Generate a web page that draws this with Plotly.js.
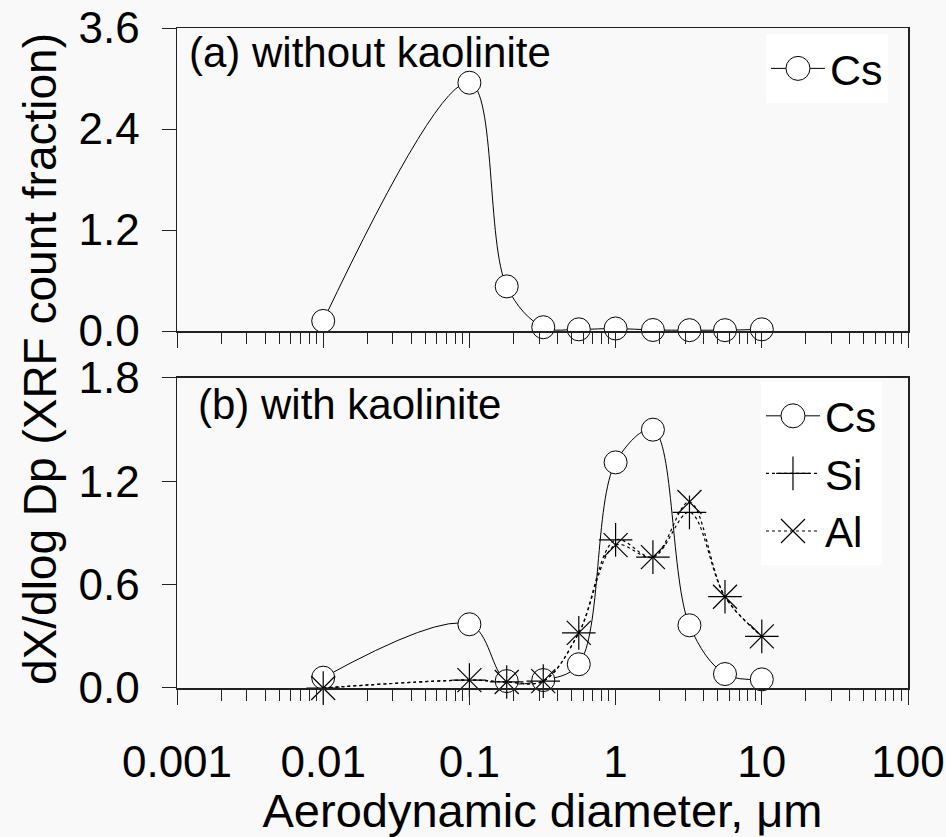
<!DOCTYPE html>
<html>
<head>
<meta charset="utf-8">
<script src="https://cdn.plot.ly/plotly-3.0.1.min.js"></script>
<style>
  html, body { margin: 0; padding: 0; background: #f9f9f9; }
  #chart { width: 946px; height: 837px; }
</style>
</head>
<body>
<div id="chart"></div>
<script>
// ---- data ----
var diameters = [0.01, 0.1, 0.18, 0.32, 0.56, 1.0, 1.8, 3.2, 5.6, 10];
var csWithout = [0.12, 2.95, 0.53, 0.045, 0.02, 0.03, 0.012, 0.01, 0.01, 0.02];
var csWith    = [0.06, 0.37, 0.04, 0.046, 0.138, 1.31, 1.50, 0.364, 0.081, 0.05];
var siWith    = [0.0, 0.046, 0.035, 0.04, 0.32, 0.86, 0.76, 1.02, 0.53, 0.30];
var alWith    = [0.0, 0.046, 0.035, 0.04, 0.32, 0.83, 0.76, 1.08, 0.53, 0.30];
var xTickVals = [0.001, 0.01, 0.1, 1, 10, 100];
var xTickText = ['0.001', '0.01', '0.1', '1', '10', '100'];
var yTopTicks = [0, 1.2, 2.4, 3.6];
var yBotTicks = [0, 0.6, 1.2, 1.8];

// minor tick positions (2..9 within each decade)
var xMinor = [];
for (var e = -3; e <= 1; e++) {
  for (var k = 2; k <= 9; k++) xMinor.push(k * Math.pow(10, e));
}

var FONT = 'Liberation Sans, Arial, Helvetica, sans-serif';
var INK = '#222222';

var circleMarker = { symbol: 'circle', size: 23, color: '#ffffff', line: { color: '#000000', width: 1 } };

var traces = [
  {
    x: diameters, y: csWithout, xaxis: 'x', yaxis: 'y', name: 'Cs', legend: 'legend',
    mode: 'lines+markers', cliponaxis: false,
    line: { color: '#000000', width: 1, shape: 'spline', smoothing: 1 },
    marker: circleMarker
  },
  {
    x: diameters, y: csWith, xaxis: 'x2', yaxis: 'y2', name: 'Cs', legend: 'legend2',
    mode: 'lines+markers', cliponaxis: false,
    line: { color: '#000000', width: 1, shape: 'spline', smoothing: 1 },
    marker: circleMarker
  },
  {
    x: diameters, y: siWith, xaxis: 'x2', yaxis: 'y2', name: 'Si', legend: 'legend2',
    mode: 'lines+markers', cliponaxis: false,
    line: { color: '#000000', width: 1.2, dash: 'dot', shape: 'spline', smoothing: 1 },
    marker: { symbol: 'cross-thin-open', size: 24, color: '#000000', line: { color: '#000000', width: 1.2 } }
  },
  {
    x: diameters, y: alWith, xaxis: 'x2', yaxis: 'y2', name: 'Al', legend: 'legend2',
    mode: 'lines+markers', cliponaxis: false,
    line: { color: '#000000', width: 1.2, dash: 'dot', shape: 'spline', smoothing: 1 },
    marker: { symbol: 'x-thin-open', size: 24, color: '#000000', line: { color: '#000000', width: 1.2 } }
  }
];

function xAxis(anchor, labels) {
  return {
    type: 'log', range: [-3, 2], anchor: anchor, domain: [0, 1],
    tickmode: 'array', tickvals: xTickVals, ticktext: xTickText,
    showticklabels: labels,
    ticks: 'outside', ticklen: 15, tickwidth: 1, tickcolor: INK,
    showline: true, linecolor: INK, linewidth: 1.5, mirror: true,
    showgrid: false, zeroline: false,
    tickfont: { family: FONT, size: 44, color: '#000000' },
    ticklabelstandoff: 20,
    minor: { tickmode: 'array', tickvals: xMinor, ticks: 'outside', ticklen: 11, tickwidth: 1, tickcolor: INK, showgrid: false }
  };
}

function yAxis(anchor, domain, range, ticks) {
  return {
    anchor: anchor, domain: domain, range: range,
    tickmode: 'array', tickvals: ticks, tickformat: '.1f',
    ticks: 'outside', ticklen: 14, tickwidth: 1, tickcolor: INK,
    showline: true, linecolor: INK, linewidth: 1.5, mirror: true,
    showgrid: false, zeroline: false,
    tickfont: { family: FONT, size: 44, color: '#000000' },
    ticklabelstandoff: 13
  };
}

var xa2 = xAxis('y2', true);
xa2.title = { text: 'Aerodynamic diameter, \u03bcm', font: { family: FONT, size: 47, color: '#000000' }, standoff: 4 };

var layout = {
  width: 946, height: 837,
  margin: { l: 177, r: 38, t: 28, b: 149 },
  paper_bgcolor: '#f9f9f9', plot_bgcolor: '#f9f9f9',
  font: { family: FONT, color: '#000000' },
  showlegend: true,
  xaxis: xAxis('y', false),
  xaxis2: xa2,
  yaxis: yAxis('x', [0.5409, 1], [0, 3.6], yTopTicks),
  yaxis2: yAxis('x2', [0, 0.4697], [0, 1.8], yBotTicks),
  legend: {
    x: 0.9726, xanchor: 'right', y: 0.991, yanchor: 'top',
    bgcolor: '#ffffff', borderwidth: 0, itemwidth: 54,
    font: { family: FONT, size: 43, color: '#000000' }
  },
  legend2: {
    x: 0.9644, xanchor: 'right', y: 0.4636, yanchor: 'top',
    bgcolor: '#ffffff', borderwidth: 0, itemwidth: 54,
    font: { family: FONT, size: 42, color: '#000000' }
  },
  annotations: [
    { text: '(a) without kaolinite', xref: 'paper', yref: 'paper', x: 0.0137, y: 0.9636,
      xanchor: 'left', yanchor: 'middle', showarrow: false,
      font: { family: FONT, size: 42, color: '#000000' } },
    { text: '(b) with kaolinite', xref: 'paper', yref: 'paper', x: 0.026, y: 0.4288,
      xanchor: 'left', yanchor: 'middle', showarrow: false,
      font: { family: FONT, size: 42, color: '#000000' } },
    { text: 'dX/dlog Dp (XRF count fraction)', xref: 'paper', yref: 'paper', x: -0.1874, y: 0.4985,
      xanchor: 'center', yanchor: 'middle', textangle: -90, showarrow: false,
      font: { family: FONT, size: 46, color: '#000000' } }
  ]
};

Plotly.newPlot('chart', traces, layout, { displayModeBar: false, staticPlot: true }).then(function (gd) {
  // enlarge the legend marker glyphs (Plotly caps them at 16px) to match the reference
  var pts = gd.querySelectorAll('.legendpoints path');
  for (var i = 0; i < pts.length; i++) {
    var t = pts[i].getAttribute('transform') || '';
    pts[i].setAttribute('transform', t + ' scale(1.5)');
    pts[i].style.vectorEffect = 'non-scaling-stroke';
  }
});
</script>
</body>
</html>
